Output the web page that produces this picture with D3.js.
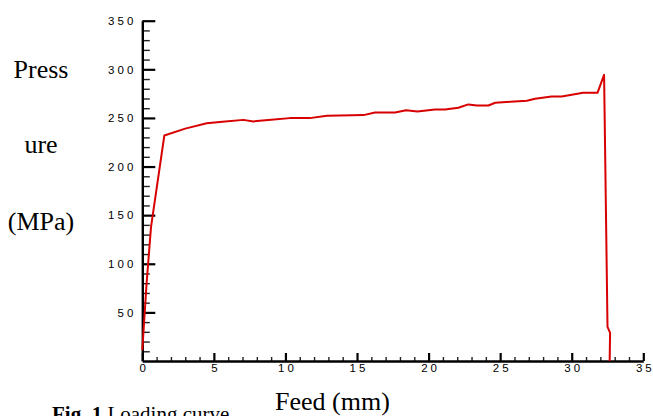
<!DOCTYPE html>
<html>
<head>
<meta charset="utf-8">
<script src="https://cdn.jsdelivr.net/npm/d3@7"></script>
<style>
html,body{margin:0;padding:0;background:#fff;}
svg{display:block;}
</style>
</head>
<body>
<svg id="chart" width="653" height="416"></svg>
<script>
// Data (Feed in mm, Pressure in MPa)
const feed = [0, 0.3, 0.61, 1.54, 3.0, 4.5, 5.6, 7.06, 7.76, 9.0, 10.3, 11.7, 12.9, 13.8, 15.45, 16.26, 17.66, 18.43, 19.22, 20.45, 21.15, 22.08, 22.78, 23.37, 24.18, 24.65, 25.7, 26.86, 27.44, 28.6, 29.3, 30.8, 31.8, 32.26, 32.5, 32.68, 32.65];
const pressure = [11, 80, 138, 232, 239, 244.6, 246, 248, 246.4, 248.2, 249.8, 249.8, 252.2, 252.5, 252.9, 255.6, 255.6, 258, 256.7, 258.7, 258.7, 260.4, 263.9, 262.8, 262.8, 265.6, 266.6, 267.6, 269.7, 272, 272, 275.8, 275.8, 294.3, 35, 29, 0];
const xTicks = [0, 5, 10, 15, 20, 25, 30, 35];
const yTicks = [50, 100, 150, 200, 250, 300, 350];
const yTitleLines = ["Press", "ure", "(MPa)"];
const xTitle = "Feed (mm)";
const captionBold = "Fig. 1";
const captionText = " Loading curve";

const svg = d3.select("#chart");
const x = d3.scaleLinear().domain([0, 35]).range([142.3, 643.3]);
const y = d3.scaleLinear().domain([0, 350]).range([361, 20.7]);

// minor ticks
const xMinor = d3.range(0, 36, 1).filter(v => v % 5 !== 0);
const yMinor = d3.range(10, 351, 10).filter(v => v % 50 !== 0);

svg.append("g").attr("transform", `translate(0,${y(0)})`)
  .call(d3.axisBottom(x).tickValues(xMinor).tickSize(-4).tickFormat(""))
  .call(g => g.select(".domain").remove())
  .call(g => g.selectAll("line").attr("stroke", "#222").attr("stroke-width", 1.4));
svg.append("g").attr("transform", `translate(${x(0)},0)`)
  .call(d3.axisLeft(y).tickValues(yMinor).tickSize(-7.5).tickFormat(""))
  .call(g => g.select(".domain").remove())
  .call(g => g.selectAll("line").attr("stroke", "#222").attr("stroke-width", 1.4));

// major axes
const xAxis = svg.append("g").attr("transform", `translate(0,${y(0)})`)
  .call(d3.axisBottom(x).tickValues(xTicks).tickSizeInner(-8).tickSizeOuter(0).tickPadding(3));
const yAxis = svg.append("g").attr("transform", `translate(${x(0)},0)`)
  .call(d3.axisLeft(y).tickValues(yTicks).tickSizeInner(-13).tickSizeOuter(0).tickPadding(6));

[xAxis, yAxis].forEach(g => {
  g.select(".domain").attr("stroke", "#000").attr("stroke-width", 2.4);
  g.selectAll(".tick line").attr("stroke", "#000").attr("stroke-width", 2.2);
  g.selectAll(".tick text")
    .attr("font-family", "Liberation Sans, Arial, sans-serif")
    .attr("font-size", 11.5)
    .attr("fill", "#000")
    .style("letter-spacing", "3px");
});
xAxis.selectAll(".tick text").attr("dx", 1.5);

// curve
const line = d3.line().x((d, i) => x(feed[i])).y((d, i) => y(pressure[i]));
svg.append("path")
  .datum(feed)
  .attr("d", line)
  .attr("fill", "none")
  .attr("stroke", "#d80000")
  .attr("stroke-width", 2)
  .attr("stroke-linejoin", "round");

// titles
const serif = "Liberation Serif, Times New Roman, serif";
const yTitleY = [78, 153, 230];
yTitleLines.forEach((t, i) => {
  svg.append("text").attr("x", 41).attr("y", yTitleY[i])
    .attr("text-anchor", "middle")
    .attr("font-family", serif).attr("font-size", 26).attr("fill", "#000")
    .text(t);
});
svg.append("text").attr("x", 275).attr("y", 410)
  .attr("font-family", serif).attr("font-size", 26).attr("fill", "#000")
  .text(xTitle);

const cap = svg.append("text").attr("x", 52).attr("y", 421)
  .attr("font-family", serif).attr("font-size", 21).attr("fill", "#000");
cap.append("tspan").attr("font-weight", "bold").text(captionBold);
cap.append("tspan").text(captionText);
</script>
</body>
</html>
